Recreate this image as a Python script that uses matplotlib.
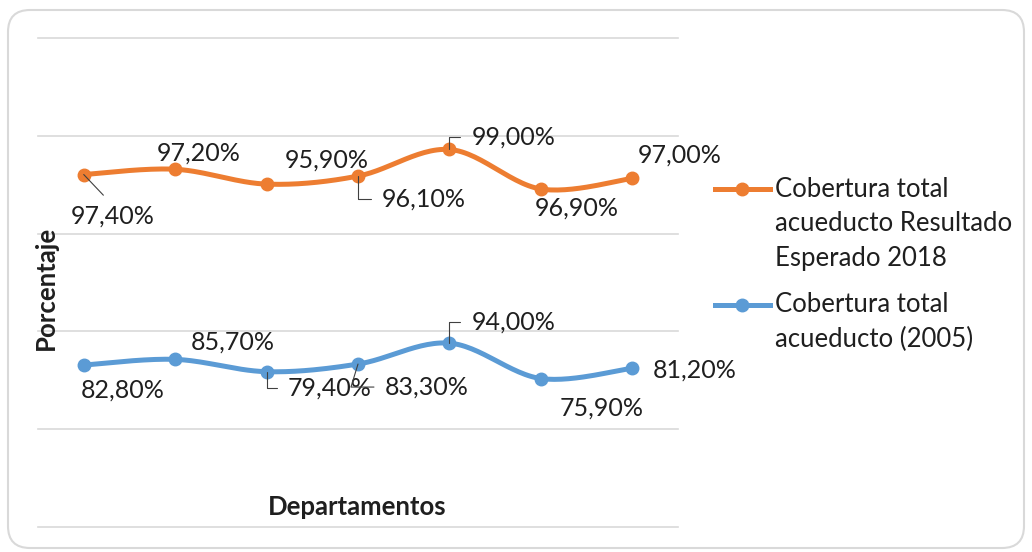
import numpy as np
import matplotlib
matplotlib.use('Agg')
import matplotlib.pyplot as plt
from matplotlib.lines import Line2D
from matplotlib.patches import FancyBboxPatch
from matplotlib.transforms import IdentityTransform

# Data (percent) - chart is a stacked line chart in the original
cobertura_2005 = [82.8, 85.7, 79.4, 83.3, 94.0, 75.9, 81.2]
esperado_2018 = [97.4, 97.2, 95.9, 96.1, 99.0, 96.9, 97.0]
labels_2005 = ['82,80%', '85,70%', '79,40%', '83,30%', '94,00%', '75,90%', '81,20%']
labels_2018 = ['97,40%', '97,20%', '95,90%', '96,10%', '99,00%', '96,90%', '97,00%']
legend_2018 = ['Cobertura total', 'acueducto Resultado', 'Esperado 2018']
legend_2005 = ['Cobertura total', 'acueducto (2005)']

orange = '#ED7D31'
blue = '#5B9BD5'
grid_c = '#D9D9D9'
txt_c = '#1f1f1f'
font = 'Lato'

# label offsets in pixels (dx, dy up) and leader style
off_2018 = [(29, -42), (24, 16), (60, 24), (66, -23), (64, 12), (36, -19), (47, 23)]
off_2005 = [(39, -25), (58, 17), (63, -16), (69, -23), (64, 21), (61, -30), (62, -2)]
lead_2018 = ['straight', None, None, 'elbow', 'elbow', None, None]
lead_2005 = [None, None, 'elbow', 'slant', 'elbow', None, None]


def smooth(x, y, n=30):
    # Catmull-Rom style bezier, similar to Excel's smoothed line
    x = np.asarray(x, float)
    y = np.asarray(y, float)
    px = np.concatenate([[x[0]], x, [x[-1]]])
    py = np.concatenate([[y[0]], y, [y[-1]]])
    xs, ys = [], []
    t = np.linspace(0, 1, n)
    for i in range(1, len(px) - 2):
        p0 = np.array([px[i], py[i]])
        p3 = np.array([px[i + 1], py[i + 1]])
        c1 = p0 + (np.array([px[i + 1], py[i + 1]]) - np.array([px[i - 1], py[i - 1]])) / 6
        c2 = p3 - (np.array([px[i + 2], py[i + 2]]) - np.array([px[i], py[i]])) / 6
        b = ((1 - t) ** 3)[:, None] * p0 + (3 * (1 - t) ** 2 * t)[:, None] * c1 \
            + (3 * (1 - t) * t ** 2)[:, None] * c2 + (t ** 3)[:, None] * p3
        xs.extend(b[:, 0])
        ys.extend(b[:, 1])
    return np.array(xs), np.array(ys)


fig = plt.figure(figsize=(10.32, 5.52), dpi=100)
W, H = 1032, 552
ax = fig.add_axes([38 / W, 1 - 527 / H, 640 / W, 489 / H])

x = np.arange(len(cobertura_2005))
y_blue = np.array(cobertura_2005)
y_orange = y_blue + np.array(esperado_2018)  # stacked

for yy, col in [(y_orange, orange), (y_blue, blue)]:
    sx, sy = smooth(x, yy)
    ax.plot(sx, sy, color=col, lw=3.6, solid_capstyle='round', zorder=3)
    ax.plot(x, yy, 'o', color=col, ms=9, zorder=4)


def add_labels(yy, texts, offs, leads):
    for i in range(len(texts)):
        kw = dict(textcoords='offset pixels', ha='center', va='center',
                  fontsize=18, family=font, color=txt_c, zorder=6)
        ap = None
        if leads[i] == 'straight':
            ap = dict(arrowstyle='-', color='#404040', lw=0.8, shrinkA=7, shrinkB=0,
                      relpos=(0.5, 1.0))
        elif leads[i] == 'elbow':
            ap = dict(arrowstyle='-', color='#404040', lw=0.8, shrinkA=6, shrinkB=0,
                      relpos=(0.0, 0.5), connectionstyle='angle,angleA=0,angleB=90,rad=0')
        elif leads[i] == 'slant':
            ap = dict(arrowstyle='-', color='#404040', lw=0.8, shrinkA=6, shrinkB=0,
                      relpos=(0.0, 0.5), connectionstyle='angle,angleA=0,angleB=73,rad=0')
        if ap:
            kw['arrowprops'] = ap
        ax.annotate(texts[i], xy=(x[i], yy[i]), xytext=offs[i], **kw)


add_labels(y_orange, labels_2018, off_2018, lead_2018)
add_labels(y_blue, labels_2005, off_2005, lead_2005)

ax.set_xlim(-0.5, len(x) - 0.5)
ax.set_ylim(0, 250)
ax.set_yticks(np.arange(0, 251, 50))
ax.set_xticks([])
ax.tick_params(left=False, labelleft=False)
ax.yaxis.grid(True, color=grid_c, lw=1.2)
ax.set_axisbelow(True)
for s in ax.spines.values():
    s.set_visible(False)
for gl in ax.get_ygridlines():
    gl.set_clip_on(False)

fig.text(357 / W, 1 - 507 / H, 'Departamentos', ha='center', va='center',
         fontsize=18.5, fontweight='bold', family=font, color=txt_c)
fig.text(46 / W, 1 - 288 / H, 'Porcentaje', ha='center', va='center', rotation=90,
         fontsize=18.5, fontweight='bold', family=font, color=txt_c)

# legend drawn by hand to keep Excel layout
def legend_entry(col, lines, y0):
    fig.add_artist(Line2D([715 / W, 770 / W], [1 - y0 / H] * 2, color=col, lw=3.6,
                          transform=fig.transFigure))
    fig.add_artist(Line2D([742 / W], [1 - y0 / H], marker='o', ms=9, color=col,
                          transform=fig.transFigure))
    for k, t in enumerate(lines):
        fig.text(775 / W, 1 - (y0 + 34.5 * k) / H, t, ha='left', va='center',
                 fontsize=18.5, family=font, color=txt_c)


legend_entry(orange, legend_2018, 189)
legend_entry(blue, legend_2005, 305)

border = FancyBboxPatch((8, 4), 1016, 538, boxstyle='round,pad=0,rounding_size=22',
                        transform=IdentityTransform(), fc='none', ec='#D9D9D9', lw=1.5)
fig.add_artist(border)

fig.savefig('out.png', dpi=100)
